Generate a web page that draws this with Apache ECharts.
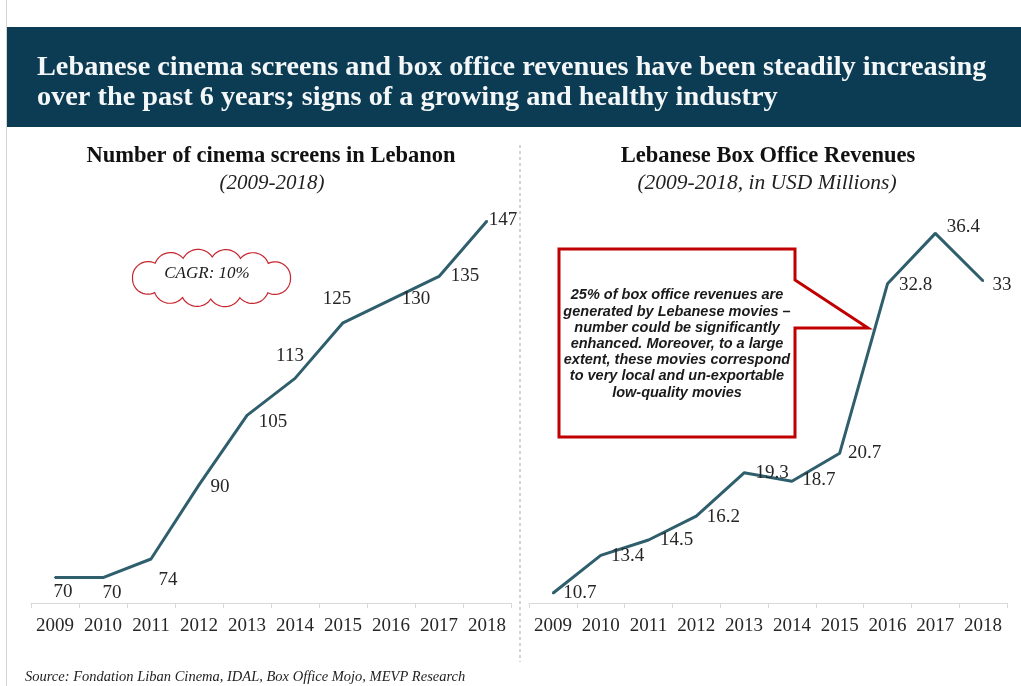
<!DOCTYPE html>
<html>
<head>
<meta charset="utf-8">
<script src="https://cdn.jsdelivr.net/npm/echarts@6/dist/echarts.min.js"></script>
<style>
  html, body { margin: 0; padding: 0; background: #ffffff; }
  #chart { width: 1021px; height: 686px; }
</style>
</head>
<body>
<div id="chart"></div>
<script>
// ---- data ----
const years = ['2009', '2010', '2011', '2012', '2013', '2014', '2015', '2016', '2017', '2018'];
const screens = [70, 70, 74, 90, 105, 113, 125, 130, 135, 147];
const revenues = [10.7, 13.4, 14.5, 16.2, 19.3, 18.7, 20.7, 32.8, 36.4, 33];

// ---- text ----
const headlineLines = [
  'Lebanese cinema screens and box office revenues have been steadily increasing',
  'over the past 6 years; signs of a growing and healthy industry'
];
const screensTitle = 'Number of cinema screens in Lebanon';
const screensSubtitle = '(2009-2018)';
const revenueTitle = 'Lebanese Box Office Revenues';
const revenueSubtitle = '(2009-2018, in USD Millions)';
const cagrNote = 'CAGR: 10%';
const calloutLines = [
  '25% of box office revenues are',
  'generated by Lebanese movies \u2013',
  'number could be significantly',
  'enhanced. Moreover, to a large',
  'extent, these movies correspond',
  'to very local and un-exportable',
  'low-quality movies'
];
const sourceNote = 'Source: Fondation Liban Cinema, IDAL, Box Office Mojo, MEVP Research';

// ---- styling ----
const SERIF = '"Liberation Serif", "Times New Roman", serif';
const SANS = '"Liberation Sans", Arial, sans-serif';
const LINE_COLOR = '#2f5e6c';
const TEXT_COLOR = '#262626';
const BANNER = '#0c3c54';

// label placement (pixel offsets from each point)
const screenLabelOffsets = [[8, 14], [9, 15], [17, 21], [21, 2], [26, 7], [-5, -22], [-6, -24], [25, -1], [26, 0], [16, -1]];
const revenueLabelOffsets = [[27, 0], [27, 1], [28, 0], [27, 1], [28, 0], [27, -1], [25, 0], [28, 1], [28, -6], [19, 4]];

function withLabels(values, offsets) {
  return values.map((v, i) => ({ value: v, label: { offset: offsets[i] } }));
}

// scalloped outline around an ellipse (bumps evenly spaced along the perimeter)
function cloudPoints(cx, cy, rx, ry, n, bulge) {
  const fine = [];
  const M = 720;
  for (let i = 0; i <= M; i++) {
    const a = Math.PI + i * 2 * Math.PI / M;
    fine.push([cx + rx * Math.cos(a), cy + ry * Math.sin(a)]);
  }
  const cum = [0];
  for (let i = 1; i < fine.length; i++) {
    cum.push(cum[i - 1] + Math.hypot(fine[i][0] - fine[i - 1][0], fine[i][1] - fine[i - 1][1]));
  }
  const total = cum[cum.length - 1];
  const base = [];
  let j = 0;
  for (let k = 0; k <= n; k++) {
    const target = total * k / n;
    while (j < cum.length - 1 && cum[j + 1] < target) j++;
    base.push(fine[Math.min(j + 1, fine.length - 1)]);
  }
  base[0] = fine[0];
  base[n] = fine[0];
  const out = [];
  for (let i = 1; i < base.length; i++) {
    const p0 = base[i - 1], p1 = base[i];
    const dx = p1[0] - p0[0], dy = p1[1] - p0[1];
    const c = Math.sqrt(dx * dx + dy * dy);
    const r = c * bulge;
    const h = Math.sqrt(Math.max(r * r - c * c / 4, 0));
    const mx = (p0[0] + p1[0]) / 2, my = (p0[1] + p1[1]) / 2;
    const ox = mx + h * (-dy) / c, oy = my + h * dx / c;
    const a0 = Math.atan2(p0[1] - oy, p0[0] - ox);
    const a1 = Math.atan2(p1[1] - oy, p1[0] - ox);
    let delta = a1 - a0;
    while (delta > Math.PI) delta -= 2 * Math.PI;
    while (delta <= -Math.PI) delta += 2 * Math.PI;
    const steps = 16;
    for (let k = 0; k < steps; k++) {
      const a = a0 + delta * k / steps;
      out.push([ox + r * Math.cos(a), oy + r * Math.sin(a)]);
    }
  }
  return out;
}

function categoryAxis(gridIndex) {
  return {
    gridIndex: gridIndex,
    type: 'category',
    data: years,
    boundaryGap: true,
    axisLine: { lineStyle: { color: '#d9d9d9', width: 1 } },
    axisTick: { show: true, length: 5, lineStyle: { color: '#d9d9d9' } },
    axisLabel: { interval: 0, margin: 14, color: TEXT_COLOR, fontFamily: SERIF, fontSize: 19 },
    splitLine: { show: false }
  };
}

function lineSeries(idx, values, offsets) {
  return {
    type: 'line',
    xAxisIndex: idx,
    yAxisIndex: idx,
    data: withLabels(values, offsets),
    symbol: 'circle',
    symbolSize: 2,
    itemStyle: { color: LINE_COLOR },
    lineStyle: { color: LINE_COLOR, width: 3 },
    label: {
      show: true,
      position: 'inside',
      color: TEXT_COLOR,
      fontFamily: SERIF,
      fontSize: 19,
      textBorderWidth: 0
    },
    silent: true
  };
}

const chart = echarts.init(document.getElementById('chart'), null, { renderer: 'canvas' });

chart.setOption({
  animation: false,
  backgroundColor: '#ffffff',
  grid: [
    { left: 31, top: 207, width: 480, height: 396 },
    { left: 529, top: 211, width: 478, height: 392 }
  ],
  xAxis: [categoryAxis(0), categoryAxis(1)],
  yAxis: [
    { gridIndex: 0, type: 'value', min: 64.5, max: 150, show: false },
    { gridIndex: 1, type: 'value', min: 10, max: 38, show: false }
  ],
  series: [
    lineSeries(0, screens, screenLabelOffsets),
    lineSeries(1, revenues, revenueLabelOffsets)
  ],
  graphic: {
    elements: [
      // page edge
      { type: 'line', shape: { x1: 6.5, y1: 0, x2: 6.5, y2: 686 }, style: { stroke: '#d4d4d4', lineWidth: 1 }, z: 1 },
      // headline banner
      { type: 'rect', shape: { x: 7, y: 27, width: 1014, height: 100 }, style: { fill: BANNER }, z: 1 },
      {
        type: 'text', x: 37, y: 68, z: 2,
        style: { text: headlineLines[0], fill: '#f4f7f8', fontFamily: SERIF, fontWeight: 'bold', fontSize: 28.3, align: 'left', verticalAlign: 'middle' }
      },
      {
        type: 'text', x: 37, y: 98, z: 2,
        style: { text: headlineLines[1], fill: '#f4f7f8', fontFamily: SERIF, fontWeight: 'bold', fontSize: 28.3, align: 'left', verticalAlign: 'middle' }
      },
      // panel titles
      {
        type: 'text', x: 271, y: 156, z: 2,
        style: { text: screensTitle, fill: '#111111', fontFamily: SERIF, fontWeight: 'bold', fontSize: 22.5, align: 'center', verticalAlign: 'middle' }
      },
      {
        type: 'text', x: 272, y: 183, z: 2,
        style: { text: screensSubtitle, fill: '#222222', fontFamily: SERIF, fontStyle: 'italic', fontSize: 21, align: 'center', verticalAlign: 'middle' }
      },
      {
        type: 'text', x: 768, y: 156, z: 2,
        style: { text: revenueTitle, fill: '#111111', fontFamily: SERIF, fontWeight: 'bold', fontSize: 22.5, align: 'center', verticalAlign: 'middle' }
      },
      {
        type: 'text', x: 767, y: 183, z: 2,
        style: { text: revenueSubtitle, fill: '#222222', fontFamily: SERIF, fontStyle: 'italic', fontSize: 21.5, align: 'center', verticalAlign: 'middle' }
      },
      // panel divider
      { type: 'line', shape: { x1: 520, y1: 145, x2: 520, y2: 662 }, style: { stroke: '#a8a8a8', lineWidth: 1, lineDash: [3, 3] }, z: 1 },
      // growth note
      {
        type: 'polygon', z: 5,
        shape: { points: cloudPoints(211.5, 278, 79, 21, 12, 0.58) },
        style: { fill: '#ffffff', stroke: '#c8262e', lineWidth: 1.2 }
      },
      {
        type: 'text', x: 207, y: 274, z: 6,
        style: { text: cagrNote, fill: '#1a1a1a', fontFamily: SERIF, fontStyle: 'italic', fontSize: 17, align: 'center', verticalAlign: 'middle' }
      },
      // callout
      {
        type: 'polygon', z: 5,
        shape: { points: [[559, 249], [795, 249], [795, 280], [868, 328], [795, 328], [795, 437], [559, 437]] },
        style: { fill: '#ffffff', stroke: '#c00000', lineWidth: 3, lineJoin: 'miter' }
      },
      {
        type: 'text', x: 677, y: 344, z: 6,
        style: {
          text: calloutLines.join('\n'), fill: '#1a1a1a', fontFamily: SANS, fontWeight: 'bold', fontStyle: 'italic',
          fontSize: 14.5, lineHeight: 16.2, align: 'center', verticalAlign: 'middle'
        }
      },
      // source
      {
        type: 'text', x: 25, y: 677, z: 2,
        style: { text: sourceNote, fill: '#222222', fontFamily: SERIF, fontStyle: 'italic', fontSize: 14.5, align: 'left', verticalAlign: 'middle' }
      }
    ]
  }
});
</script>
</body>
</html>
